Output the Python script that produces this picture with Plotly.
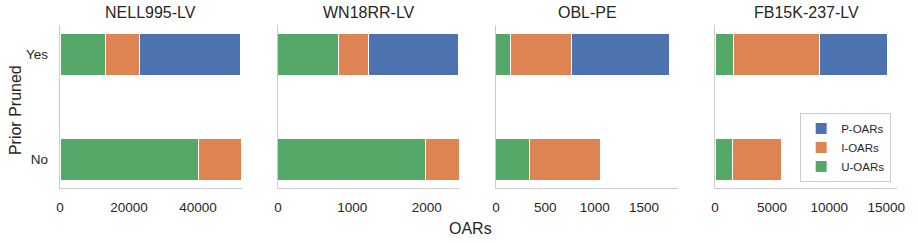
import plotly.graph_objects as go

datasets = ["NELL995-LV", "WN18RR-LV", "OBL-PE", "FB15K-237-LV"]
categories = ["No", "Yes"]
# values per dataset: [No, Yes]
u_oars = [[40100, 13130], [1987, 810], [341, 149], [1510, 1600]]
i_oars = [[12650, 9870], [456, 402], [717, 618], [4310, 7560]]
p_oars = [[0, 29460], [0, 1218], [0, 990], [0, 5960]]
x_max = [52750, 2447, 1844, 15940]
x_ticks = [[0, 20000, 40000], [0, 1000, 2000], [0, 500, 1000, 1500], [0, 5000, 10000, 15000]]

series = [("U-OARs", u_oars, "#55A868"), ("I-OARs", i_oars, "#DD8452"), ("P-OARs", p_oars, "#4C72B0")]

domains = [[0.0, 0.2174], [0.2604, 0.4779], [0.5209, 0.7384], [0.7826, 1.0]]
font = "Liberation Sans, Arial, sans-serif"
txt = "#262626"

fig = go.Figure()
for i, name in enumerate(datasets):
    xa = "x" if i == 0 else f"x{i+1}"
    ya = "y" if i == 0 else f"y{i+1}"
    for sname, vals, col in series:
        fig.add_trace(go.Bar(
            y=categories, x=vals[i], orientation="h", name=sname,
            marker=dict(color=col, line=dict(color="white", width=1)),
            width=0.4, xaxis=xa, yaxis=ya, showlegend=(i == 0),
        ))
    axx = dict(domain=domains[i], range=[0, x_max[i]], tickvals=x_ticks[i],
               ticktext=[str(t) for t in x_ticks[i]], showgrid=False, zeroline=False,
               showline=True, linecolor="#cccccc", linewidth=1.3, ticks="",
               automargin=False, ticklabelstandoff=6,
               tickfont=dict(size=13.5, color=txt, family=font), anchor=ya)
    axy = dict(type="category", categoryorder="array", categoryarray=categories,
               range=[-0.27, 1.28], showgrid=False, zeroline=False, showline=True,
               linecolor="#cccccc", linewidth=1.3, ticks="", anchor=xa, automargin=False,
               ticklabelstandoff=8,
               showticklabels=(i == 0), tickfont=dict(size=13.5, color=txt, family=font))
    fig.update_layout(**{("xaxis" if i == 0 else f"xaxis{i+1}"): axx,
                         ("yaxis" if i == 0 else f"yaxis{i+1}"): axy})
    fig.add_annotation(text=name, x=(domains[i][0] + domains[i][1]) / 2, y=1,
                       xref="paper", yref="paper", xanchor="center", yanchor="bottom",
                       yshift=2, showarrow=False, font=dict(size=16, color=txt, family=font))

fig.add_annotation(text="OARs", x=0.49, y=0, xref="paper", yref="paper",
                   xanchor="center", yanchor="middle", yshift=-40, showarrow=False,
                   font=dict(size=16, color=txt, family=font))
fig.add_annotation(text="Prior Pruned", x=0, y=0.478, xref="paper", yref="paper",
                   xanchor="center", yanchor="middle", xshift=-45, textangle=-90,
                   showarrow=False, font=dict(size=16, color=txt, family=font))

fig.update_layout(
    width=918, height=243, barmode="stack", bargap=0,
    margin=dict(l=60, r=21, t=25, b=55, autoexpand=False),
    plot_bgcolor="white", paper_bgcolor="white",
    legend=dict(traceorder="reversed", x=0.993, y=0.037, xanchor="right", yanchor="bottom",
                bordercolor="#cccccc", borderwidth=1, bgcolor="white",
                font=dict(size=11.5, color=txt, family=font), tracegroupgap=0,
                itemwidth=30),
)
fig.write_html("out.html", config={"displayModeBar": False, "staticPlot": True},
               post_script="document.body.style.margin='0';document.body.style.overflow='hidden';")
